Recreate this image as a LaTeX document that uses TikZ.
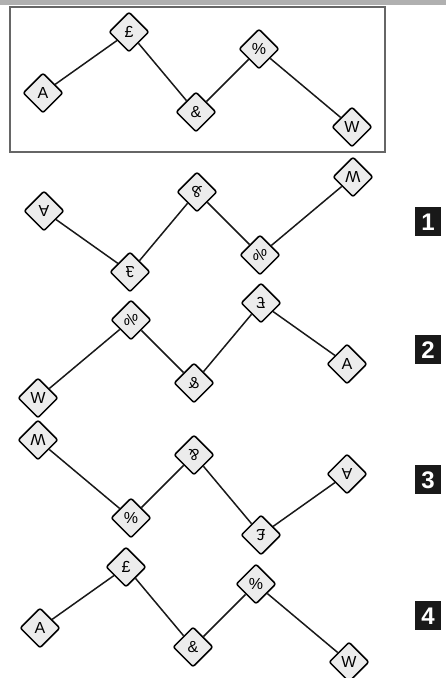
\documentclass[tikz,border=0pt]{standalone}
\usepackage{fontspec}
\setmainfont{Liberation Sans}
\usetikzlibrary{shapes.geometric}
\definecolor{dfill}{HTML}{ECECEC}
\definecolor{barg}{HTML}{B0B0B0}
\tikzset{
  dia/.style={diamond, draw=black, fill=dfill, line width=1.5pt, minimum size=40pt,
    inner sep=0pt, rounded corners=2pt, font=\fontsize{16}{16}\selectfont},
  edge/.style={draw=black!90, line width=1.5pt},
  numbox/.style={fill=black!90, text=white, minimum width=26pt, minimum height=29pt,
    inner sep=0pt, font=\fontsize{24}{24}\selectfont\bfseries},
  frame/.style={draw=black!60, line width=1.2pt}
}
\newcommand{\mypattern}[1]{%
  \node[dia] (#1a) at (-154,-13) {A};
  \node[dia] (#1b) at (-68,48) {£};
  \node[dia] (#1c) at (-1,-32) {\&};
  \node[dia] (#1d) at (62,31) {\%};
  \node[dia] (#1e) at (155,-47) {W};
  \draw[edge] (#1a) -- (#1b);
  \draw[edge] (#1b) -- (#1c);
  \draw[edge] (#1c) -- (#1d);
  \draw[edge] (#1d) -- (#1e);
}
\begin{document}
\begin{tikzpicture}[x=1pt,y=1pt]
\useasboundingbox (0,0) rectangle (446,678);
\fill[barg] (0,673) rectangle (446,678);
\draw[frame] (10,671) rectangle (385,526);
\begin{scope}[shift={(197,598)}]
  \mypattern{o}
\end{scope}
\begin{scope}[shift={(198,454)}, yscale=-1, transform shape]
  \mypattern{p}
\end{scope}
\begin{scope}[shift={(193,327)}, xscale=-1, transform shape]
  \mypattern{q}
\end{scope}
\begin{scope}[shift={(193,191)}, rotate=180, transform shape]
  \mypattern{r}
\end{scope}
\begin{scope}[shift={(194,63)}]
  \mypattern{s}
\end{scope}
\node[numbox] (n1) at (428,456) {1};
\node[numbox] (n2) at (428,328) {2};
\node[numbox] (n3) at (428,198) {3};
\node[numbox] (n4) at (428,62) {4};
\end{tikzpicture}
\end{document}
